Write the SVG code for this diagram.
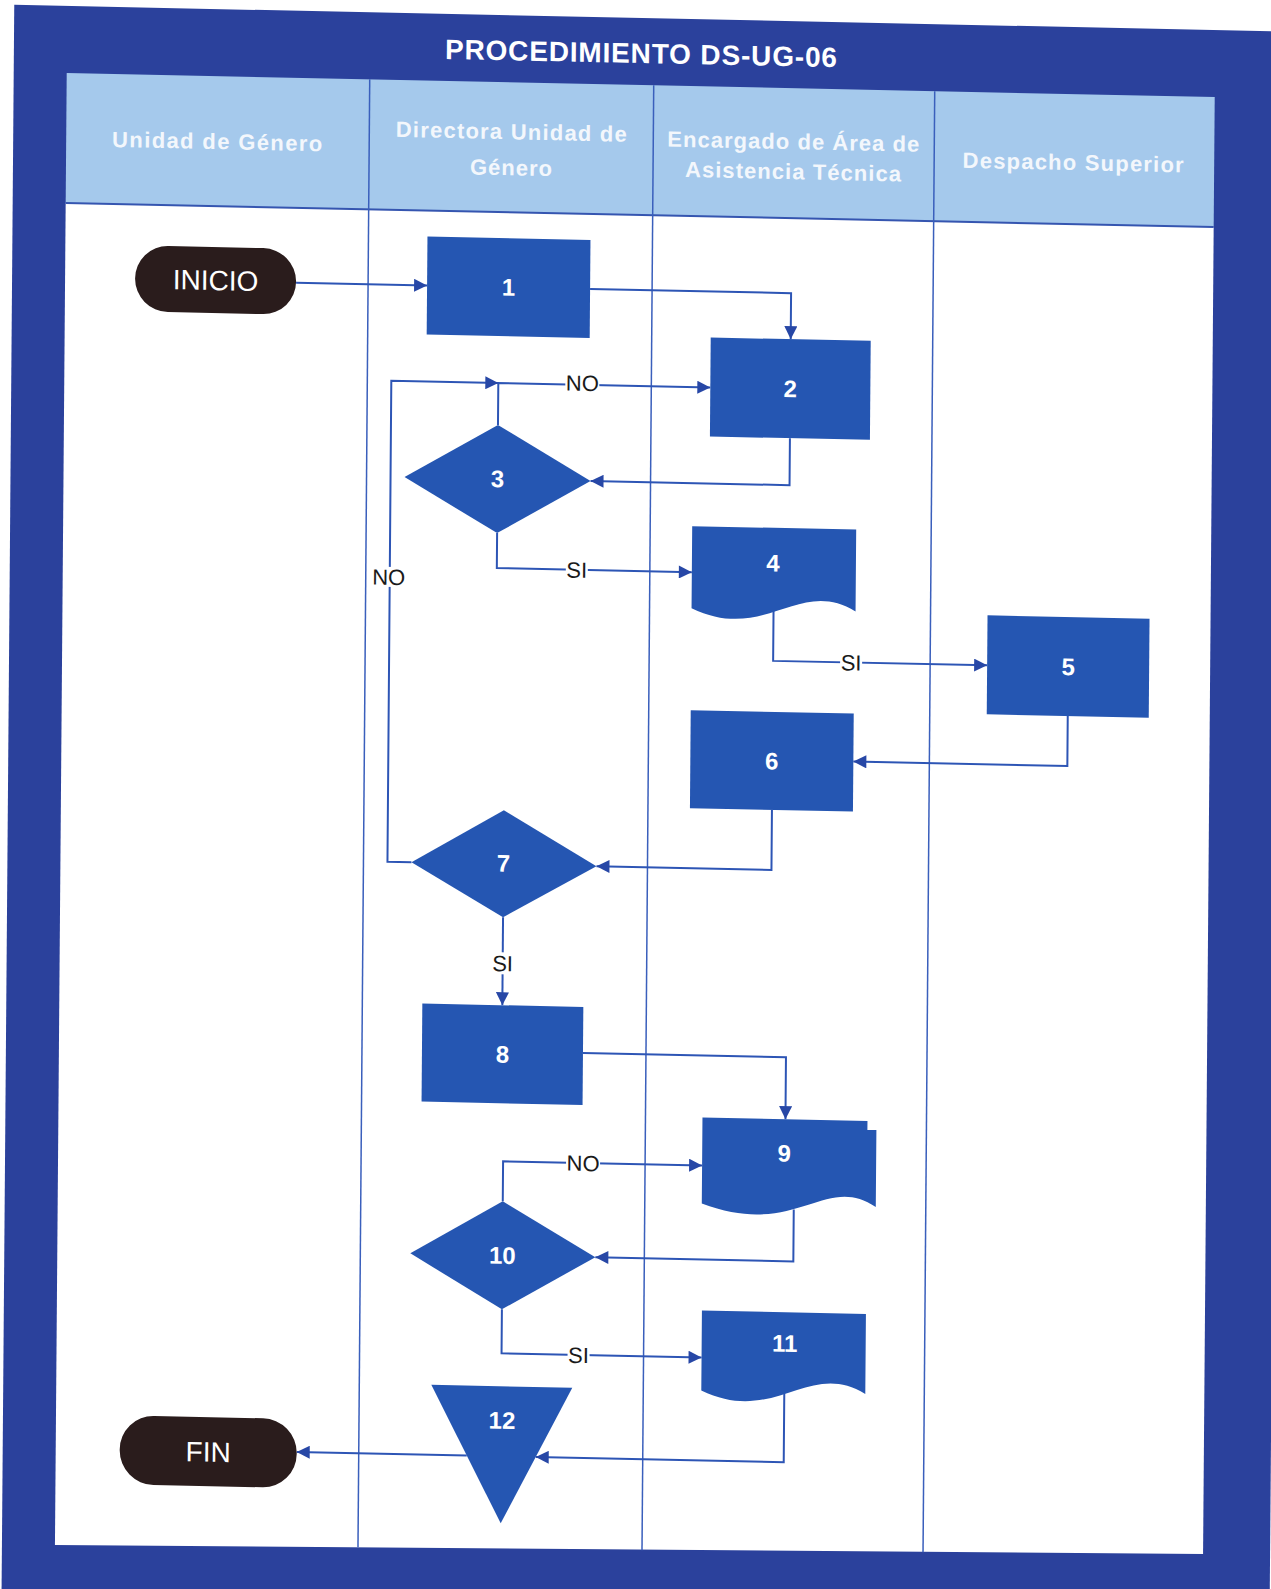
<svg xmlns="http://www.w3.org/2000/svg" width="1271" height="1589" viewBox="0 0 1271 1589">
<defs>
<style>
.frame{fill:#2B419C}
.hdr{fill:#A5C9EC}
.lane{stroke:#3A5FBC;stroke-width:1.5;fill:none}
.node{fill:#2556B2}
.term{fill:#2A1C1C}
.num{font-family:"Liberation Sans",Arial,sans-serif;font-weight:bold;font-size:24px;fill:#fff;text-anchor:middle}
.tt{font-family:"Liberation Sans",Arial,sans-serif;font-size:28px;fill:#fff;text-anchor:middle}
.hd{font-family:"Liberation Sans",Arial,sans-serif;font-weight:bold;font-size:22px;fill:#F3F7FC;text-anchor:middle}
.title{font-family:"Liberation Sans",Arial,sans-serif;font-weight:bold;font-size:28px;fill:#fff;text-anchor:middle}
.conn{stroke:#2D55B5;stroke-width:2;fill:none}
.arr{marker-end:url(#ah)}
.lbl{font-family:"Liberation Sans",Arial,sans-serif;font-size:22px;fill:#1a1a1a;text-anchor:middle}
.bg{fill:#fff}
</style>
<marker id="ah" viewBox="0 0 10 10" refX="10" refY="5" markerWidth="14" markerHeight="13" markerUnits="userSpaceOnUse" orient="auto">
<path d="M0,0 L10,5 L0,10 z" fill="#2747A6"/>
</marker>
</defs>
<rect width="1271" height="1589" fill="#fff"/>
<g transform="matrix(1 0.021 -0.008 1 6.4 -13.335)">
<rect class="frame" x="8" y="18" width="1268" height="1600"/>
<rect class="hdr" x="61" y="85" width="1148" height="130"/>
<polygon fill="#fff" points="61,215 1209,215 1209,1542 61,1557"/>
<line x1="61" y1="215" x2="1209" y2="215" stroke="#3555B0" stroke-width="2"/>
<g id="lanes">
<line class="lane" x1="364" y1="85" x2="364" y2="1553"/>
<line class="lane" x1="648" y1="85" x2="648" y2="1550"/>
<line class="lane" x1="929" y1="85" x2="929" y2="1546"/>
</g>
<text class="title" x="635" y="63" textLength="392" lengthAdjust="spacing">PROCEDIMIENTO DS-UG-06</text>
<g id="headers">
<text class="hd" x="212" y="158" textLength="210" lengthAdjust="spacing">Unidad de Género</text>
<text class="hd" x="506" y="142" textLength="231" lengthAdjust="spacing">Directora Unidad de</text>
<text class="hd" x="506" y="178" textLength="82" lengthAdjust="spacing">Género</text>
<text class="hd" x="788" y="146" textLength="252" lengthAdjust="spacing">Encargado de Área de</text>
<text class="hd" x="788" y="176" textLength="216" lengthAdjust="spacing">Asistencia Técnica</text>
<text class="hd" x="1068" y="161" textLength="221" lengthAdjust="spacing">Despacho Superior</text>
</g>
<g id="connectors">
<path class="conn arr" d="M292,290 H423"/>
<path class="conn arr" d="M586,290 H787 V336"/>
<path class="conn arr" d="M495,428 V386 H707"/>
<path class="conn arr" d="M787,435 V482 H588"/>
<path class="conn arr" d="M495,536 V571 H690"/>
<path class="conn arr" d="M772,607 V658 H986"/>
<path class="conn arr" d="M1067,707 V757 H853"/>
<path class="conn arr" d="M772,807 V867 H597"/>
<path class="conn arr" d="M412,867 H388 V386 H495"/>
<path class="conn arr" d="M504,920 V1008"/>
<path class="conn arr" d="M585,1054 H788 V1116"/>
<path class="conn arr" d="M506,1204 V1164 H705"/>
<path class="conn arr" d="M797,1206 V1258 H599"/>
<path class="conn arr" d="M506,1312 V1356 H706"/>
<path class="conn arr" d="M789,1390 V1459 H541"/>
<path class="conn arr" d="M472,1459 H302"/>
<rect class="bg" x="562" y="375" width="34" height="18"/>
<text class="lbl" x="579" y="392">NO</text>
<rect class="bg" x="370" y="572" width="34" height="20"/>
<text class="lbl" x="387" y="590">NO</text>
<rect class="bg" x="564" y="562" width="22" height="18"/>
<text class="lbl" x="575" y="579">SI</text>
<rect class="bg" x="839" y="649" width="22" height="18"/>
<text class="lbl" x="850" y="666">SI</text>
<rect class="bg" x="493" y="955" width="22" height="22"/>
<text class="lbl" x="504" y="974">SI</text>
<rect class="bg" x="569" y="1155" width="34" height="18"/>
<text class="lbl" x="586" y="1172">NO</text>
<rect class="bg" x="572" y="1347" width="22" height="18"/>
<text class="lbl" x="583" y="1364">SI</text>
</g>
<g id="inicio"><rect class="term" x="131" y="256" width="161" height="66" rx="33"/><text class="tt" x="211.5" y="299">INICIO</text></g>
<g id="n1"><rect class="node" x="423" y="241" width="163" height="98"/><text class="num" x="504.5" y="298.5">1</text></g>
<g id="n2"><rect class="node" x="707" y="336" width="160" height="99"/><text class="num" x="787" y="394">2</text></g>
<g id="n3"><polygon class="node" points="495,428 588,482 495,536 402,482"/><text class="num" x="495" y="490">3</text></g>
<g id="n4"><path class="node" d="M690,525 H854 V607 C797,573 764,641 690,607 Z"/><text class="num" x="771" y="568.5">4</text></g>
<g id="n5"><rect class="node" x="986" y="608" width="162" height="99"/><text class="num" x="1067" y="666">5</text></g>
<g id="n6"><rect class="node" x="690" y="709" width="163" height="98"/><text class="num" x="771.5" y="766.5">6</text></g>
<g id="n7"><polygon class="node" points="504,813 597,867 504,920 412,867"/><text class="num" x="504" y="874.5">7</text></g>
<g id="n8"><rect class="node" x="424" y="1008" width="161" height="98"/><text class="num" x="504.5" y="1065.5">8</text></g>
<g id="n9"><path class="node" d="M705,1116 H870 V1125 H879 V1202 C828,1168 800,1236 705,1202 Z"/><text class="num" x="787" y="1158.5">9</text></g>
<g id="n10"><polygon class="node" points="506,1204 599,1258 506,1312 414,1258"/><text class="num" x="506" y="1266.5">10</text></g>
<g id="n11"><path class="node" d="M706,1309 H870 V1389 C813,1355 780,1423 706,1389 Z"/><text class="num" x="789" y="1348.5">11</text></g>
<g id="n12"><polygon class="node" points="436,1389 577,1389 506.5,1526"/><text class="num" x="507" y="1431.5">12</text></g>
<g id="fin"><rect class="term" x="125" y="1426" width="177" height="69" rx="34"/><text class="tt" x="213.5" y="1470.5">FIN</text></g>
</g>
</svg>
